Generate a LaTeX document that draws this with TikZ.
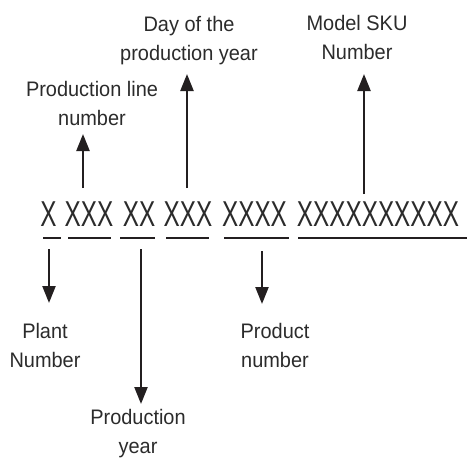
\documentclass[tikz,border=0pt]{standalone}
\usepackage{fontspec}
\setmainfont{Liberation Sans}
\newfontfamily\labfont{Liberation Sans}[FakeStretch=0.95]
\newfontfamily\xfont{Liberation Sans}[FakeStretch=0.675]
\usetikzlibrary{arrows.meta}
\definecolor{ink}{HTML}{231F20}
\definecolor{txt}{HTML}{2B2B2B}
\tikzset{
  lab/.style={inner sep=0pt, align=center, text=txt, font=\labfont\fontsize{21}{29}\selectfont},
  xg/.style={inner sep=0pt, text=txt, font=\xfont\fontsize{36}{40}\selectfont},
  arr/.style={draw=ink, line width=2.4pt, -{Triangle[length=17pt,width=13pt]}},
  uline/.style={draw=ink, line width=1.4pt}
}
\begin{document}
\begin{tikzpicture}[x=1pt,y=-1pt]
\useasboundingbox (0,0) rectangle (467,458);
% code groups
\node[xg] (g1) at (48.5,214) {X};
\node[xg] (g2) at (89,214) {XXX};
\node[xg] (g3) at (139,214) {XX};
\node[xg] (g4) at (188,214) {XXX};
\node[xg] (g5) at (254.5,214) {XXXX};
\node[xg] (g6) at (378,214) {XXXXXXXXXX};
% underlines
\coordinate (u1a) at (43,238);  \coordinate (u1b) at (61,238);
\coordinate (u2a) at (68,238);  \coordinate (u2b) at (111,238);
\coordinate (u3a) at (120,238); \coordinate (u3b) at (155,238);
\coordinate (u4a) at (166,238); \coordinate (u4b) at (209,238);
\coordinate (u5a) at (224,238); \coordinate (u5b) at (289,238);
\coordinate (u6a) at (298,238); \coordinate (u6b) at (467,238);
\draw[uline] (u1a) -- (u1b);
\draw[uline] (u2a) -- (u2b);
\draw[uline] (u3a) -- (u3b);
\draw[uline] (u4a) -- (u4b);
\draw[uline] (u5a) -- (u5b);
\draw[uline] (u6a) -- (u6b);
% labels
\node[lab] (pl) at (92,103.5) {Production line\\number};
\node[lab] (day) at (189,40.5) {Day of the\\production year};
\node[lab] (sku) at (357,37) {Model SKU\\Number};
\node[lab] (plant) at (45,345.5) {Plant\\Number};
\node[lab] (prod) at (275,345.5) {Product\\number};
\node[lab] (year) at (138,434) {Production\\year};
% arrow ends
\coordinate (a1s) at (83,188);  \coordinate (a1e) at (83,134);
\coordinate (a2s) at (187,188); \coordinate (a2e) at (187,74);
\coordinate (a3s) at (364,194); \coordinate (a3e) at (364,74);
\coordinate (a4s) at (49,249);  \coordinate (a4e) at (49,303);
\coordinate (a5s) at (141,249); \coordinate (a5e) at (141,404);
\coordinate (a6s) at (262,251); \coordinate (a6e) at (262,304);
\draw[arr] (a1s) -- (a1e);
\draw[arr] (a2s) -- (a2e);
\draw[arr] (a3s) -- (a3e);
\draw[arr] (a4s) -- (a4e);
\draw[arr] (a5s) -- (a5e);
\draw[arr] (a6s) -- (a6e);
\end{tikzpicture}
\end{document}
